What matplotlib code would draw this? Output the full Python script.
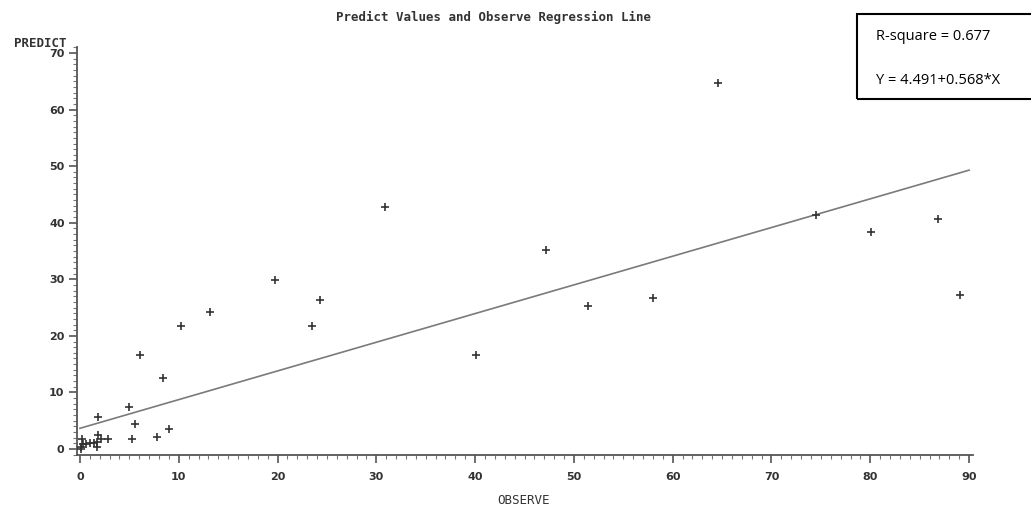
import matplotlib
matplotlib.use("Agg")
import matplotlib.pyplot as plt
import numpy as np
from matplotlib.ticker import MultipleLocator
from matplotlib.patches import Rectangle

# Data
observe = [0.1, 0.2, 0.3, 0.6, 1.0, 1.4, 1.7, 1.7, 1.8, 2.1, 2.8, 0.1,
           1.8, 5.3, 7.8, 8.97, 5.6, 4.96, 8.4, 6.1, 10.2, 13.2, 19.7,
           23.5, 24.3, 30.9, 40.1, 47.2, 51.4, 58.0, 64.6, 74.5, 80.1,
           86.9, 89.1]
predict = [0.3, 1.7, 0.8, 0.9, 1.0, 1.0, 0.3, 1.3, 2.5, 1.7, 1.7, 0.0,
           5.6, 1.7, 2.1, 3.5, 4.4, 7.4, 12.5, 16.7, 21.8, 24.2, 29.8,
           21.8, 26.3, 42.8, 16.6, 35.2, 25.3, 26.7, 64.7, 41.3, 38.4,
           40.7, 27.2]
line_intercept = 3.66
line_slope = 0.507
line_x = [0, 90]
x_ticks = [0, 10, 20, 30, 40, 50, 60, 70, 80, 90]
y_ticks = [0, 10, 20, 30, 40, 50, 60, 70]
title = "Predict Values and Observe Regression Line"
stats_lines = ["R-square = 0.677", "Y = 4.491+0.568*X"]

W, H = 1031, 511
fig = plt.figure(figsize=(W / 100, H / 100), dpi=100)
ax = fig.add_axes([77 / W, 1 - 455 / H, (973 - 77) / W, (455 - 47) / H])

dark = "#333333"
ax.scatter(observe, predict, marker="+", s=40, c=dark, linewidths=1.2, zorder=3)
lx = np.array(line_x, dtype=float)
ax.plot(lx, line_intercept + line_slope * lx, color="#7a7a7a", lw=1.2, zorder=2)

ax.set_xlim(-0.3, 90.4)
ax.set_ylim(-1.06, 71.06)
for s in ["top", "right"]:
    ax.spines[s].set_visible(False)
for s in ["left", "bottom"]:
    ax.spines[s].set_color("#555555")
    ax.spines[s].set_linewidth(1.3)

ax.set_xticks(x_ticks)
ax.set_yticks(y_ticks)
ax.xaxis.set_minor_locator(MultipleLocator(1))
ax.yaxis.set_minor_locator(MultipleLocator(1))
ax.tick_params(axis="both", which="major", length=6, width=1.2, color="#555555",
               labelsize=8, labelcolor="#333333", direction="out")
ax.tick_params(axis="both", which="minor", length=3, width=0.8, color="#777777",
               direction="out")
ax.tick_params(axis="x", pad=6)
ax.tick_params(axis="y", pad=3)
for lab in ax.get_xticklabels() + ax.get_yticklabels():
    lab.set_fontfamily("DejaVu Sans")
    lab.set_fontweight("bold")

fig.text(494 / W, 1 - 17 / H, title, ha="center", va="center",
         fontsize=9, family="DejaVu Sans Mono", fontweight="bold", color="#333333")
fig.text(40 / W, 1 - 43 / H, "PREDICT", ha="center", va="center",
         fontsize=9, family="DejaVu Sans Mono", fontweight="bold", color="#333333")
fig.text(523 / W, 1 - 500 / H, "OBSERVE", ha="center", va="center",
         fontsize=9, family="DejaVu Sans Mono", color="#333333")

# stats box
fig.patches.append(Rectangle((857 / W, 1 - 99 / H), (1040 - 857) / W, (99 - 14) / H,
                             transform=fig.transFigure, fill=False,
                             edgecolor="black", linewidth=1.5))
fig.text(876 / W, 1 - 37 / H, stats_lines[0], ha="left", va="center",
         fontsize=10.5, family="Open Sans", color="black")
fig.text(876 / W, 1 - 81 / H, stats_lines[1], ha="left", va="center",
         fontsize=10.5, family="Open Sans", color="black")

fig.savefig("out.png", dpi=100)
